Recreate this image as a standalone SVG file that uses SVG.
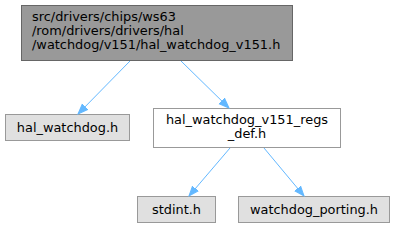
<svg xmlns="http://www.w3.org/2000/svg" width="395" height="227" viewBox="0 0 395 227">
<defs>
<marker id="ah" markerWidth="12" markerHeight="10" refX="10" refY="5" orient="auto" markerUnits="userSpaceOnUse">
<path d="M0,1.2 L10,5 L0,8.8 Z" fill="#63b8ff" stroke="#63b8ff"/>
</marker>
</defs>
<style>
text{font-family:"DejaVu Sans",sans-serif;font-size:12.9px;fill:#000}
.gray rect{fill:#e0e0e0;stroke:#999}
.white rect{fill:#fff;stroke:#999}
.main rect{fill:#999;stroke:#666}
.edge{stroke:#63b8ff;fill:none;marker-end:url(#ah)}
</style>
<g id="node1" class="main"><rect x="21.5" y="5.5" width="271" height="55"/>
<text x="32" y="21">src/drivers/chips/ws63</text>
<text x="32" y="35">/rom/drivers/drivers/hal</text>
<text x="32" y="49">/watchdog/v151/hal_watchdog_v151.h</text></g>
<g id="node2" class="gray"><rect x="5.5" y="114.5" width="124" height="26"/>
<text x="67.5" y="132" text-anchor="middle">hal_watchdog.h</text></g>
<g id="node3" class="white"><rect x="153.5" y="108.5" width="187" height="39"/>
<text x="247" y="124" text-anchor="middle">hal_watchdog_v151_regs</text>
<text x="247" y="138" text-anchor="middle">_def.h</text></g>
<g id="node4" class="gray"><rect x="137.5" y="196.5" width="78" height="26"/>
<text x="176.5" y="214" text-anchor="middle">stdint.h</text></g>
<g id="node5" class="gray"><rect x="238.5" y="196.5" width="151" height="26"/>
<text x="314" y="214" text-anchor="middle">watchdog_porting.h</text></g>
<g id="edges">
<path class="edge" d="M130,61 L78,114"/>
<path class="edge" d="M181,61 L229,108"/>
<path class="edge" d="M230,148 L189,196"/>
<path class="edge" d="M264,148 L304,196"/>
</g>
</svg>
